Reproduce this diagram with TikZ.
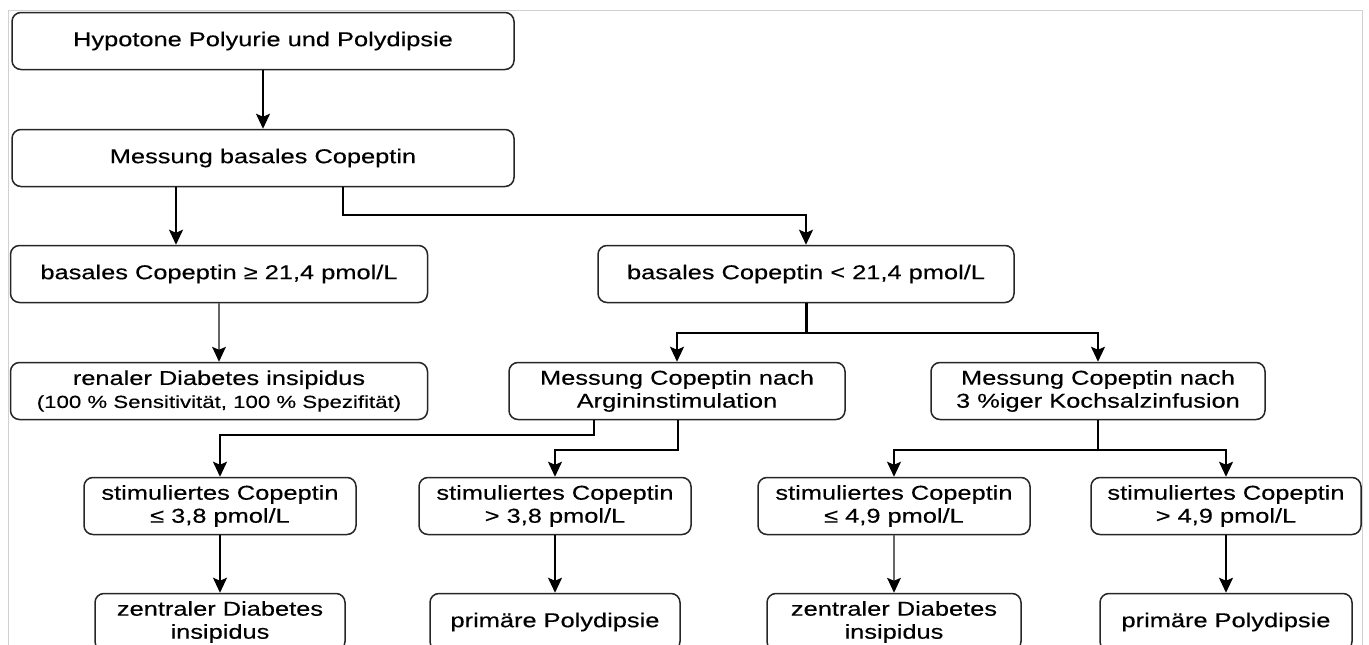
\documentclass[tikz,border=0pt]{standalone}
\usepackage{fontspec}
\setmainfont{Liberation Sans}[FakeStretch=1.27, FakeBold=0.3]
\usetikzlibrary{arrows.meta}

\begin{document}
\begin{tikzpicture}[x=1pt, y=-1pt, ->, >={Stealth[length=15pt,width=14pt,inset=3pt]}, line width=1.8pt]
	\tikzstyle{box}=[draw=black!85, line width=1.5pt, rounded corners=9pt, align=center, inner sep=0pt, minimum height=57pt, font=\fontsize{20}{23}\selectfont]
	\tikzstyle{grey}=[draw=black!60, line width=2.4pt, >={Stealth[length=15pt,width=14pt,inset=3pt,color=black,line width=0pt]}]
	
	\useasboundingbox (0,0) rectangle (1369,645);
	\clip (0,0) rectangle (1369,645);
	\draw[-, black!18, line width=1pt] (8,700) -- (8,10) -- (1362,10) -- (1362,700);
	
	\node[box, minimum width=502pt] (A) at (263,41) {Hypotone Polyurie und Polydipsie};
	\node[box, minimum width=502pt] (B) at (263,158) {Messung basales Copeptin};
	\node[box, minimum width=417pt] (C) at (219,274) {basales Copeptin ≥ 21,4 pmol/L};
	\node[box, minimum width=417pt] (D) at (219,391) {renaler Diabetes insipidus\\{\fontsize{17.5}{21}\selectfont (100 \% Sensitivität, 100 \% Spezifität)}};
	\node[box, minimum width=416pt] (G) at (806,274) {basales Copeptin < 21,4 pmol/L};
	\node[box, minimum width=336pt] (H) at (677,391) {Messung Copeptin nach\\Argininstimulation};
	\node[box, minimum width=334pt] (I) at (1098,391) {Messung Copeptin nach\\3 \%iger Kochsalzinfusion};
	\node[box, minimum width=272pt] (E) at (220,506) {stimuliertes Copeptin\\≤ 3,8 pmol/L};
	\node[box, minimum width=272pt] (J) at (555,506) {stimuliertes Copeptin\\> 3,8 pmol/L};
	\node[box, minimum width=272pt] (L) at (894,506) {stimuliertes Copeptin\\≤ 4,9 pmol/L};
	\node[box, minimum width=270pt] (M) at (1226,506) {stimuliertes Copeptin\\> 4,9 pmol/L};
	\node[box, minimum width=250pt] (F) at (220,622) {zentraler Diabetes\\insipidus};
	\node[box, minimum width=250pt] (K) at (555,622) {primäre Polydipsie};
	\node[box, minimum width=254pt] (N) at (894,622) {zentraler Diabetes\\insipidus};
	\node[box, minimum width=252pt] (O) at (1226,622) {primäre Polydipsie};
	
	% knicke der verbindungen
	\coordinate (xBC) at (176,0);
	\coordinate (kBG) at (343,215);
	\coordinate (jG) at (806,333);
	\coordinate (kHE) at (594,435);
	\coordinate (kHJ) at (678,450);
	\coordinate (jI) at (I.south |- kHJ);
	
	\draw (A) -- (B);
	\draw[grey] (C) -- (D);
	\draw (E) -- (F);
	\draw (J) -- (K);
	\draw[grey] (L) -- (N);
	\draw (M) -- (O);
	
	\draw (B.south -| xBC) -- (C.north -| xBC);
	\draw (B.south -| kBG) -- (kBG) -| (G.north);
	\draw[-, line width=3pt] (G) -- (jG);
	\draw (jG) -| (H.north);
	\draw (jG) -| (I.north);
	\draw (H.south -| kHE) -- (kHE) -| (E.north);
	\draw (H.south -| kHJ) -- (kHJ) -| (J.north);
	\draw[-] (I) -- (jI);
	\draw (jI) -| (L.north);
	\draw (jI) -| (M.north);
\end{tikzpicture}
\end{document}
